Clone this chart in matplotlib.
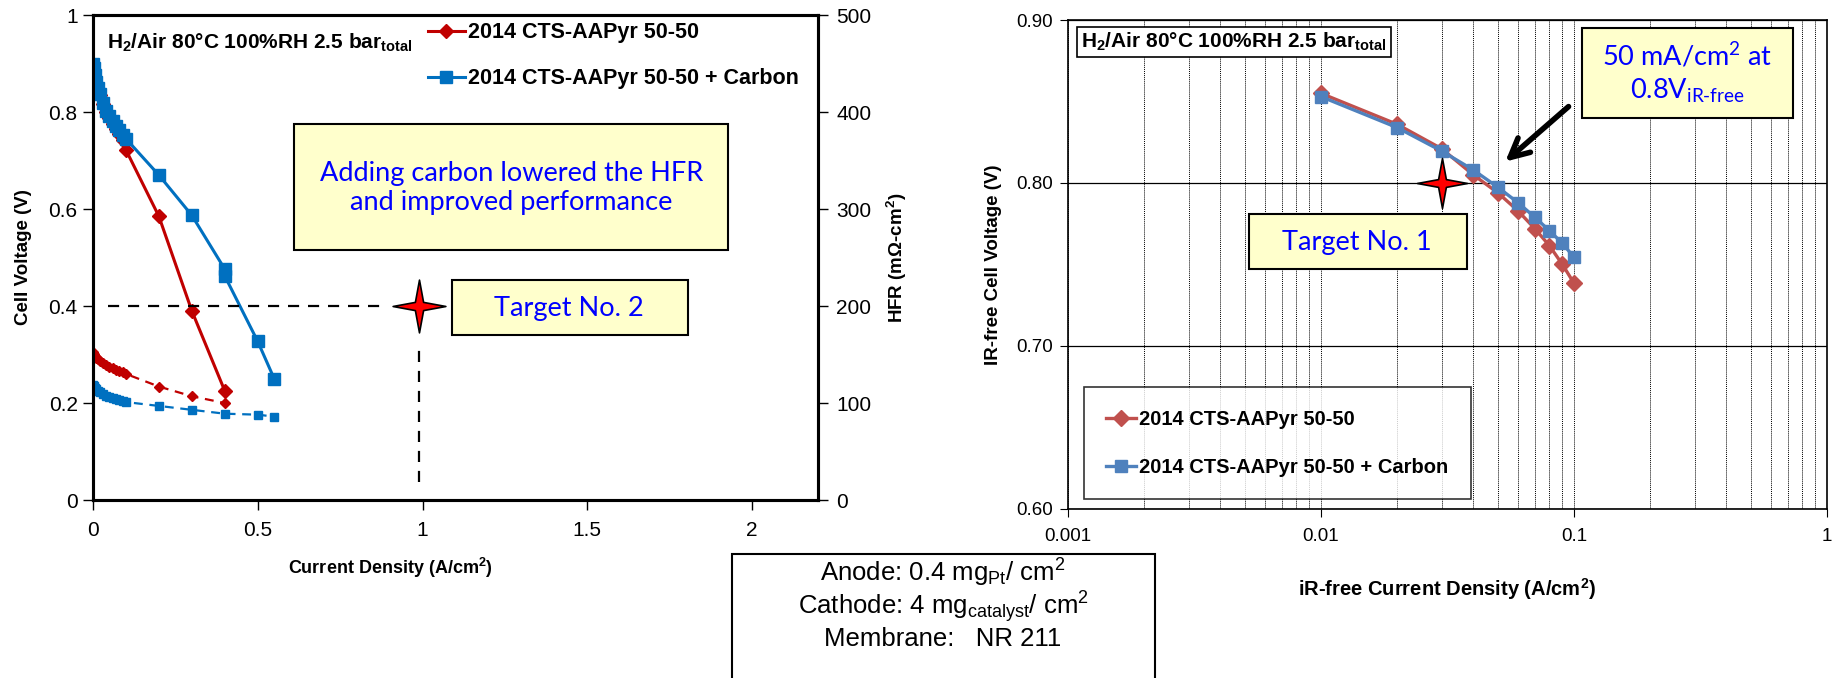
import numpy as np
import matplotlib
matplotlib.use('Agg')
import matplotlib.pyplot as plt
from matplotlib.path import Path
from matplotlib.patches import Rectangle

plt.rcParams['font.family'] = ['Liberation Sans', 'DejaVu Sans']
plt.rcParams['mathtext.fontset'] = 'custom'
plt.rcParams['mathtext.default'] = 'regular'

# --- данные: поляризационные кривые (левый график) ---
j_plain = [0.0, 0.002, 0.005, 0.01, 0.015, 0.02, 0.03, 0.04, 0.05, 0.06, 0.07, 0.08, 0.09, 0.1,
           0.2, 0.3, 0.4]
v_plain = [0.895, 0.886, 0.873, 0.86, 0.848, 0.836, 0.816, 0.8, 0.787, 0.776, 0.765, 0.754, 0.742,
           0.722, 0.585, 0.39, 0.225]
hfr_plain = [153, 151, 149, 146, 145, 143, 141, 139, 137, 136, 134, 133, 132, 130, 117, 107, 100]

j_carbon = [0.0, 0.002, 0.005, 0.01, 0.015, 0.02, 0.03, 0.04, 0.05, 0.06, 0.07, 0.08, 0.09, 0.1,
            0.2, 0.3, 0.4, 0.4, 0.5, 0.55]
v_carbon = [0.9, 0.89, 0.876, 0.862, 0.85, 0.838, 0.818, 0.803, 0.791, 0.781, 0.771, 0.762, 0.753,
            0.745, 0.67, 0.587, 0.476, 0.462, 0.327, 0.25]
j_hfr_carbon = [0.0, 0.002, 0.005, 0.01, 0.015, 0.02, 0.03, 0.04, 0.05, 0.06, 0.07, 0.08, 0.09, 0.1,
                0.2, 0.3, 0.4, 0.5, 0.55]
hfr_carbon = [119, 118, 116, 114, 112, 111, 109, 107, 106, 105, 104, 103, 102, 101, 97, 93, 89, 88, 86]

# --- iR-free (правый график) ---
j_ir = [0.01, 0.02, 0.03, 0.04, 0.05, 0.06, 0.07, 0.08, 0.09, 0.1]
v_ir_plain = [0.855, 0.836, 0.821, 0.805, 0.794, 0.783, 0.772, 0.7615, 0.750, 0.7385]
v_ir_carbon = [0.853, 0.834, 0.8196, 0.808, 0.7974, 0.788, 0.779, 0.7707, 0.763, 0.7544]

# цели
target2 = (0.99, 0.4)
target1 = (0.03, 0.8)

label_plain = '2014 CTS-AAPyr 50-50'
label_carbon = '2014 CTS-AAPyr 50-50 + Carbon'
cond_text = 'H$_2$/Air 80°C 100%RH 2.5 bar$_{total}$'

RED = '#C00000'
BLUE = '#0070C0'
RED2 = '#C0504D'
BLUE2 = '#4F81BD'
BOX_FC = '#FFFFCC'
TXT_BLUE = '#0000FF'
CAL = ['Lato', 'DejaVu Sans']

# четырёхконечная звезда
ang = np.deg2rad(np.arange(0, 360, 45) + 90)
rad = np.array([1, 0.22] * 4)
star_verts = np.column_stack([rad * np.cos(ang), rad * np.sin(ang)])
star_verts = np.vstack([star_verts, star_verts[:1]])
STAR = Path(star_verts, closed=True)

fig = plt.figure(figsize=(18.41, 6.78), dpi=100)

# ================= левый график =================
ax = fig.add_axes([0.0505, 0.2625, 0.3938, 0.7153])
ax2 = ax.twinx()
ax.set_zorder(ax2.get_zorder() + 1)
ax.patch.set_visible(False)

l1, = ax.plot(j_plain, v_plain, color=RED, lw=2.2, marker='D', ms=7.5, label=label_plain)
l2, = ax.plot(j_carbon, v_carbon, color=BLUE, lw=2.2, marker='s', ms=8.5, label=label_carbon)
ax2.plot(j_plain, hfr_plain, color=RED, lw=1.6, ls=(0, (4, 3)), marker='D', ms=5)
ax2.plot(j_hfr_carbon, hfr_carbon, color=BLUE, lw=1.6, ls=(0, (4, 3)), marker='s', ms=5.5)

ax.plot([0.045, 0.88], [target2[1], target2[1]], color='black', lw=1.6, ls=(0, (5, 4)))
ax.plot([target2[0], target2[0]], [0.037, 0.315], color='black', lw=1.6, ls=(0, (5, 4)))
ax.plot([target2[0]], [target2[1]], marker=STAR, ms=38, mfc='red', mec='black', mew=1.2,
        ls='none', zorder=5)

ax.set_xlim(0, 2.2)
ax.set_ylim(0, 1)
ax2.set_ylim(0, 500)
ax.set_xticks([0, 0.5, 1, 1.5, 2])
ax.set_xticklabels(['0', '0.5', '1', '1.5', '2'])
ax.set_yticks([0, 0.2, 0.4, 0.6, 0.8, 1])
ax.set_yticklabels(['0', '0.2', '0.4', '0.6', '0.8', '1'])
ax2.set_yticks([0, 100, 200, 300, 400, 500])
ax.tick_params(labelsize=15, direction='out', length=7, width=1, pad=4)
ax.tick_params(axis='x', pad=8)
ax2.tick_params(labelsize=15, direction='out', length=7, width=1, pad=6)
for s in ax.spines.values():
    s.set_linewidth(2.2)
for s in ax2.spines.values():
    s.set_linewidth(2.2)

ax.set_xlabel('Current Density (A/cm$^2$)', fontsize=13, fontweight='bold', va='center')
ax.xaxis.set_label_coords(0.41, -0.14)
ax.set_ylabel('Cell Voltage (V)', fontsize=13.5, fontweight='bold', labelpad=12)
ax2.set_ylabel('HFR (mΩ-cm$^2$)', fontsize=13.5, fontweight='bold', labelpad=10)

ax.text(0.019, 0.942, cond_text, transform=ax.transAxes, fontsize=15, fontweight='bold',
        va='center', ha='left')
ax.legend(handles=[l1, l2], loc='upper left', bbox_to_anchor=(0.462, 0.985), frameon=False,
          prop=dict(weight='bold', size=15.5), handlelength=1.7, handletextpad=0.15,
          labelspacing=1.15, borderpad=0, borderaxespad=0)

ax.add_patch(Rectangle((0.2772, 0.5155), 0.5987, 0.2598, transform=ax.transAxes,
                       facecolor=BOX_FC, edgecolor='black', lw=1.5, zorder=3))
ax.text(0.577, 0.643, 'Adding carbon lowered the HFR\nand improved performance',
        transform=ax.transAxes, ha='center', va='center', color=TXT_BLUE, fontsize=19.5,
        family=CAL, linespacing=1.2, zorder=4)
ax.add_patch(Rectangle((0.4952, 0.3402), 0.3255, 0.1134, transform=ax.transAxes,
                       facecolor=BOX_FC, edgecolor='black', lw=1.5, zorder=3))
ax.text(0.657, 0.395, 'Target No. 2', transform=ax.transAxes, ha='center', va='center',
        color=TXT_BLUE, fontsize=19.5, family=CAL, zorder=4)

# ================= правый график =================
bx = fig.add_axes([0.5801, 0.2493, 0.4123, 0.7212])
bx.set_xscale('log')
bx.grid(True, which='both', axis='x', color='black', lw=0.7, ls=(0, (1, 1)))
bx.grid(True, which='major', axis='y', color='black', lw=0.9, ls='-')
bx.set_axisbelow(True)

bx.plot(j_ir, v_ir_plain, color=RED2, lw=2.4, marker='D', ms=8, label=label_plain, zorder=3)
bx.plot(j_ir, v_ir_carbon, color=BLUE2, lw=2.4, marker='s', ms=8, label=label_carbon, zorder=4)
bx.plot([target1[0]], [target1[1]], marker=STAR, ms=36, mfc='red', mec='black', mew=1.2,
        ls='none', zorder=5)

bx.annotate('', xy=(0.0525, 0.812), xytext=(0.097, 0.848),
            arrowprops=dict(arrowstyle='->', lw=4, color='black', mutation_scale=34))

bx.set_xlim(0.001, 1)
bx.set_ylim(0.6, 0.9)
bx.set_xticks([0.001, 0.01, 0.1, 1])
bx.set_xticklabels(['0.001', '0.01', '0.1', '1'])
bx.set_yticks([0.6, 0.7, 0.8, 0.9])
bx.set_yticklabels(['0.60', '0.70', '0.80', '0.90'])
bx.tick_params(axis='x', which='major', labelsize=13.5, direction='out', length=6, pad=8)
bx.tick_params(axis='x', which='minor', length=0)
bx.tick_params(axis='y', labelsize=13.5, direction='out', length=6, pad=5)
for s in bx.spines.values():
    s.set_linewidth(1.2)

bx.set_xlabel('iR-free Current Density (A/cm$^2$)', fontsize=14.5, fontweight='bold', labelpad=22)
bx.set_ylabel('IR-free Cell Voltage (V)', fontsize=13.5, fontweight='bold', labelpad=10)

bx.text(0.017, 0.955, cond_text, transform=bx.transAxes, fontsize=15, fontweight='bold',
        va='center', ha='left', zorder=6,
        bbox=dict(boxstyle='square,pad=0.2', facecolor='white', edgecolor='black', lw=1.2))

leg = bx.legend(loc='lower left', bbox_to_anchor=(0.021, 0.0204), frameon=True, fancybox=False,
                prop=dict(weight='bold', size=14.5), handlelength=1.5,
                handletextpad=0.15, labelspacing=1.45, borderpad=1.1, borderaxespad=0)
leg.get_frame().set_edgecolor('black')
leg.get_frame().set_linewidth(1.2)

bx.add_patch(Rectangle((0.2385, 0.4908), 0.2872, 0.1125, transform=bx.transAxes,
                       facecolor=BOX_FC, edgecolor='black', lw=1.5, zorder=6))
bx.text(0.381, 0.544, 'Target No. 1', transform=bx.transAxes, ha='center', va='center',
        color=TXT_BLUE, fontsize=19.5, family=CAL, zorder=7)
bx.add_patch(Rectangle((0.677, 0.7996), 0.278, 0.184, transform=bx.transAxes,
                       facecolor=BOX_FC, edgecolor='black', lw=1.5, zorder=6))
bx.text(0.8155, 0.891, '50 mA/cm$^2$ at\n0.8V$_{iR\u2010free}$', transform=bx.transAxes,
        ha='center', va='center', color=TXT_BLUE, fontsize=19.5, family=CAL,
        linespacing=1.25, zorder=7)

# ================= нижняя подпись =================
fig.patches.append(Rectangle((732 / 1841, -0.05), (1155 - 732) / 1841, 0.05 + (678 - 554) / 678,
                             transform=fig.transFigure, facecolor='white', edgecolor='black',
                             lw=1.5))
cx = 943 / 1841
fig.text(cx, 1 - 573 / 678, 'Anode: 0.4 mg$_{Pt}$/ cm$^2$', ha='center', va='center', fontsize=18.5)
fig.text(cx, 1 - 607 / 678, 'Cathode: 4 mg$_{catalyst}$/ cm$^2$', ha='center', va='center',
         fontsize=18.5)
fig.text(cx, 1 - 639 / 678, 'Membrane:   NR 211', ha='center', va='center', fontsize=18.5)

fig.savefig('out.png', dpi=100, facecolor='white')
